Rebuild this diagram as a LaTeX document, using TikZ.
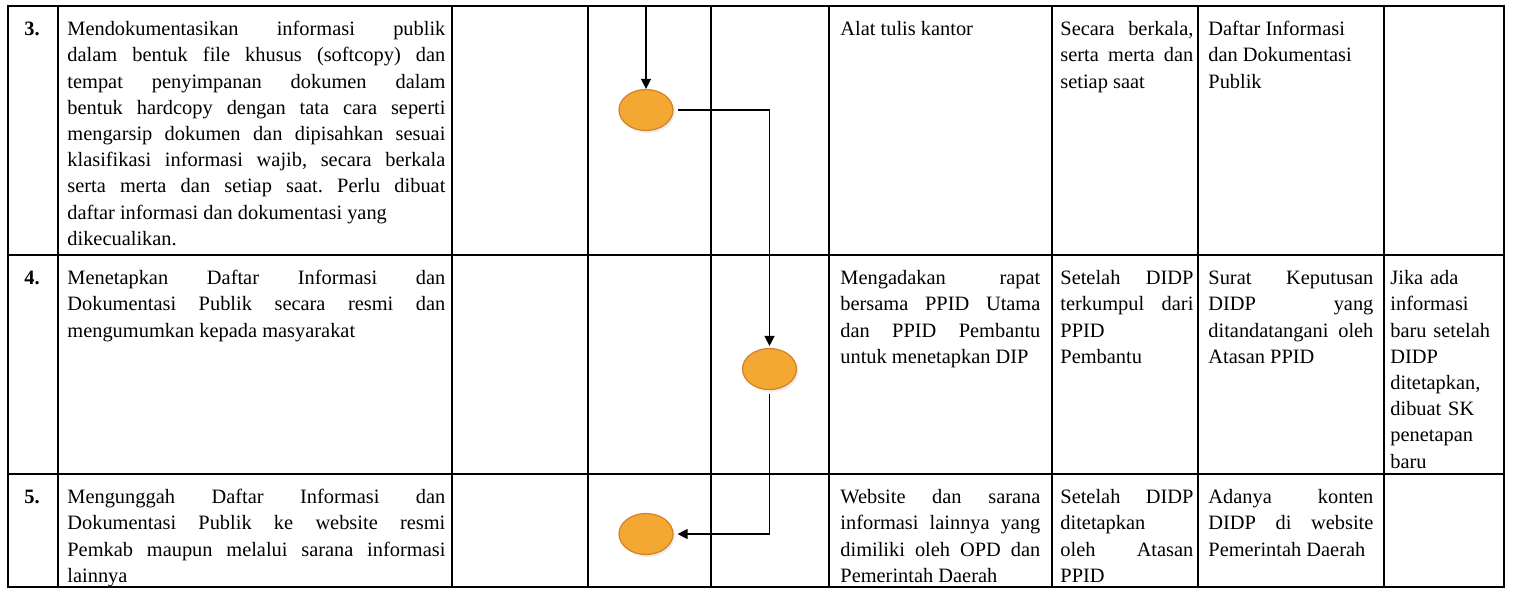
\documentclass[tikz,border=0pt]{standalone}
\usepackage{fontspec}
\setmainfont{Liberation Serif}
\usetikzlibrary{arrows.meta,shapes,shadows,positioning}
\setlength{\parindent}{0pt}
\frenchspacing
\tolerance=10000
\hbadness=10000
\hyphenpenalty=10000
\newcommand{\cellfont}{\fontsize{10.2}{13.1}\selectfont}
\definecolor{actfill}{RGB}{244,168,52}
\definecolor{actline}{RGB}{214,128,38}
\tikzstyle{cell} = [anchor=north west, inner sep=0pt, font=\cellfont,
    execute at begin node=\strut]
\tikzstyle{num} = [cell, font=\cellfont\bfseries]
\tikzstyle{uraian} = [cell, text width=189pt, align=justify]
\tikzstyle{alat} = [cell, text width=100pt, align=justify]
\tikzstyle{waktu} = [cell, text width=66.5pt, align=justify]
\tikzstyle{hasil} = [cell, text width=82.5pt, align=justify]
\tikzstyle{ket} = [cell, text width=52pt, align=left]
\tikzstyle{act} = [ellipse, draw=actline, fill=actfill, line width=0.6pt,
    minimum width=27pt, minimum height=20.5pt, inner sep=0pt,
    drop shadow={shadow xshift=1pt, shadow yshift=-1.2pt, opacity=0.15}]

\begin{document}
\begin{tikzpicture}[x=0.5pt,y=-0.5pt,>={Triangle[length=5pt,width=5pt]},
                    flow/.style={->,line width=0.7pt}]
  \useasboundingbox (0,0) rectangle (1515,591);

  % table grid
  \draw[line width=1pt] (8,6) rectangle (1504,587);
  \foreach \y in {255,474}
    \draw[line width=1pt] (8,\y) -- (1504,\y);
  \foreach \x in {58,452,588,711,829,1052,1198,1384}
    \draw[line width=1pt] (\x,6) -- (\x,587);

  % row 3
  \node[num]    (n3) at (24,17) {3.};
  \node[uraian] (u3) at (67,17) {Mendokumentasikan informasi publik\linebreak
    dalam bentuk file khusus (softcopy) dan\linebreak
    tempat penyimpanan dokumen dalam\linebreak
    bentuk hardcopy dengan tata cara seperti\linebreak
    mengarsip dokumen dan dipisahkan sesuai\linebreak
    klasifikasi informasi wajib, secara berkala\linebreak
    serta merta dan setiap saat. Perlu dibuat\linebreak
    daftar informasi dan dokumentasi yang\newline
    dikecualikan.};
  \node[alat]   (a3) at (840,17) {Alat tulis kantor};
  \node[waktu]  (w3) at (1060,17) {Secara berkala,\linebreak
    serta merta dan\linebreak setiap saat};
  \node[hasil]  (h3) at (1208,17) {Daftar Informasi\newline
    dan Dokumentasi\newline Publik};

  % row 4
  \node[num]    (n4) at (24,266) {4.};
  \node[uraian] (u4) at (67,266) {Menetapkan Daftar Informasi dan\linebreak
    Dokumentasi Publik secara resmi dan\linebreak
    mengumumkan kepada masyarakat};
  \node[alat]   (a4) at (840,266) {Mengadakan rapat\linebreak
    bersama PPID Utama\linebreak dan PPID Pembantu\linebreak
    untuk menetapkan DIP};
  \node[waktu]  (w4) at (1060,266) {Setelah DIDP\linebreak
    terkumpul dari\linebreak PPID\newline Pembantu};
  \node[hasil]  (h4) at (1208,266) {Surat Keputusan\linebreak
    DIDP yang\linebreak ditandatangani oleh\linebreak Atasan PPID};
  \node[ket]    (k4) at (1390,266) {Jika ada\\ informasi\\ baru setelah\\
    DIDP\\ ditetapkan,\\ dibuat SK\\ penetapan\\ baru};

  % row 5
  \node[num]    (n5) at (24,485) {5.};
  \node[uraian] (u5) at (67,485) {Mengunggah Daftar Informasi dan\linebreak
    Dokumentasi Publik ke website resmi\linebreak
    Pemkab maupun melalui sarana informasi\linebreak
    lainnya};
  \node[alat]   (a5) at (840,485) {Website dan sarana\linebreak
    informasi lainnya yang\linebreak dimiliki oleh OPD dan\linebreak
    Pemerintah Daerah};
  \node[waktu]  (w5) at (1060,485) {Setelah DIDP\linebreak
    ditetapkan\newline oleh Atasan\linebreak PPID};
  \node[hasil]  (h5) at (1208,485) {Adanya konten\linebreak
    DIDP di website\linebreak Pemerintah Daerah};

  % activities
  \node[act] (e1) at (646,110) {};
  \node[act, on grid, below right=129.5pt and 61.75pt of e1] (e2) {};
  \node[act, on grid, below=212pt of e1] (e3) {};

  \coordinate (masuk) at (646,6);
  \draw[flow] (masuk) -- (e1.north);
  \draw[flow, shorten <=2pt, shorten >=1pt] (e1.east) -| (e2.north);
  \draw[flow, shorten <=2pt, shorten >=2pt] (e2.south) |- (e3.east);
\end{tikzpicture}
\end{document}
